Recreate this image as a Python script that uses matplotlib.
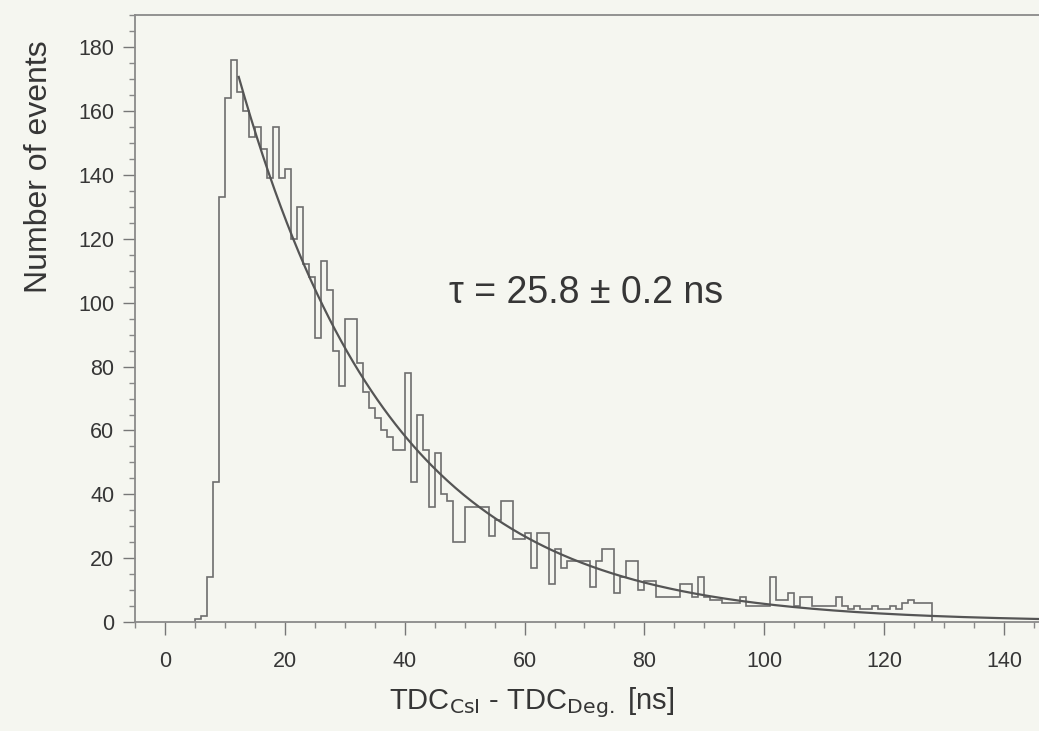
import numpy as np
import matplotlib
matplotlib.use("Agg")
import matplotlib.pyplot as plt
from matplotlib.ticker import MultipleLocator

# histogram: 1 ns bins starting at t = 5 ns
first_bin = 5
counts = [1, 2, 14, 44, 133, 164, 176, 166, 160, 152,
          155, 148, 139, 155, 139, 142, 120, 130, 112, 108,
          89, 113, 104, 85, 74, 95, 95, 81, 72, 67,
          64, 60, 58, 54, 54, 78, 44, 65, 54, 36,
          53, 40, 38, 25, 25, 36, 36, 36, 36, 27,
          32, 38, 38, 26, 26, 28, 17, 28, 28, 12,
          23, 17, 19, 19, 19, 19, 11, 19, 23, 23,
          9, 14, 19, 19, 10, 13, 13, 8, 8, 8,
          8, 12, 12, 8, 14, 8, 7, 7, 6, 6,
          6, 8, 5, 5, 5, 5, 14, 7, 7, 9,
          5, 8, 8, 5, 5, 5, 5, 8, 5, 4,
          5, 4, 4, 5, 4, 4, 5, 4, 6, 7,
          6, 6, 6]

# exponential fit shown in the figure
tau = 25.8
tau_err = 0.2
amp = 275.0
fit_start, fit_end = 12.3, 146.0

xticks = [0, 20, 40, 60, 80, 100, 120, 140]
yticks = [0, 20, 40, 60, 80, 100, 120, 140, 160, 180]

bg = "#f5f6f0"
ink = "#363636"
plt.rcParams['font.family'] = ['Liberation Sans', 'DejaVu Sans']

fig = plt.figure(figsize=(10.39, 7.31), dpi=100, facecolor=bg)
ax = fig.add_axes([0.130, 0.149, 0.872, 0.830], facecolor=bg)

edges = np.arange(first_bin, first_bin + len(counts) + 1)
ax.stairs(counts, edges, color="#6e6e6e", lw=1.2)

t = np.linspace(fit_start, fit_end, 400)
ax.plot(t, amp * np.exp(-t / tau), color="#555555", lw=1.6)

ax.text(70.3, 103, "\u03c4 = %.1f \u00b1 %.1f ns" % (tau, tau_err),
        ha="center", va="center", fontsize=27, color=ink)

ax.set_xlim(-5, 146.2)
ax.set_ylim(0, 190)
ax.set_xticks(xticks)
ax.set_yticks(yticks)
ax.xaxis.set_minor_locator(MultipleLocator(5))
ax.yaxis.set_minor_locator(MultipleLocator(5))
ax.tick_params(which="major", length=9, width=1, colors="#777777",
               labelcolor=ink, labelsize=15.5)
ax.tick_params(which="minor", length=4, width=1, colors="#888888")
ax.tick_params(axis="x", pad=12)
ax.tick_params(axis="y", pad=6)

for side in ["left", "bottom", "top"]:
    ax.spines[side].set_color("#8a8a8a")
    ax.spines[side].set_linewidth(1.3)
ax.spines["right"].set_visible(False)

ax.set_ylabel("Number of events", fontsize=23, color=ink)
ax.yaxis.set_label_coords(-0.09, 0.75)
ax.set_xlabel(r"TDC$_{\mathrm{CsI}}$ - TDC$_{\mathrm{Deg.}}$ [ns]",
              fontsize=21, color=ink)
ax.xaxis.set_label_coords(0.438, -0.105)

fig.savefig("out.png", dpi=100, facecolor=bg)
